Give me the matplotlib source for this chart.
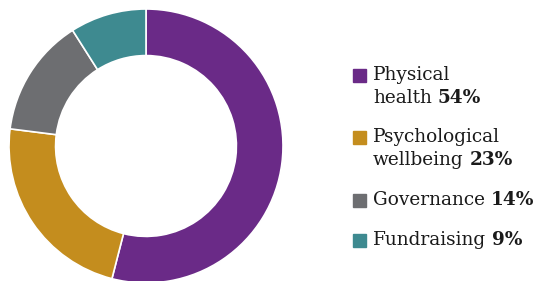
import matplotlib
matplotlib.use("Agg")
import matplotlib.pyplot as plt
from matplotlib.patches import Rectangle

labels = ["Physical\nhealth", "Psychological\nwellbeing", "Governance", "Fundraising"]
shares = [54, 23, 14, 9]
colors = ["#6a2a87", "#c48d1e", "#6d6e71", "#3e8a90"]

W, H = 537, 281
fig = plt.figure(figsize=(W / 100, H / 100), dpi=100)
plt.rcParams['font.family'] = ['DejaVu Serif']

# donut: centre ~ (146,146) px, outer radius ~137
cx, cy, r = 146, 146, 137
ax = fig.add_axes([(cx - r) / W, (H - cy - r) / H, 2 * r / W, 2 * r / H])
ax.pie(shares, colors=colors, startangle=90, counterclock=False,
       wedgeprops=dict(width=0.34, edgecolor="white", linewidth=1.2))
ax.set_xlim(-1, 1)
ax.set_ylim(-1, 1)
ax.set_aspect("equal")
ax.axis("off")

# legend drawn by hand (mixed regular / bold text)
fig.canvas.draw()
renderer = fig.canvas.get_renderer()
rows_y = [75, 137, 200, 240]   # centre of first line, px from top
line_h = 23
fs = 13.3
for lab, val, col, y0 in zip(labels, shares, colors, rows_y):
    sq = 13
    fig.patches.append(Rectangle((353 / W, (H - y0 - sq / 2) / H), sq / W, sq / H,
                                 transform=fig.transFigure, color=col))
    lines = lab.split("\n")
    for i, ln in enumerate(lines):
        yy = (H - y0 - i * line_h) / H
        t = fig.text(373 / W, yy, ln, fontsize=fs, va="center", ha="left", color="#1a1a1a")
        if i == len(lines) - 1:
            bb = t.get_window_extent(renderer)
            fig.text((bb.x1 + 6) / W, yy, f"{val}%", fontsize=fs, va="center",
                     ha="left", fontweight="bold", color="#1a1a1a")

fig.savefig("out.png", dpi=100)
